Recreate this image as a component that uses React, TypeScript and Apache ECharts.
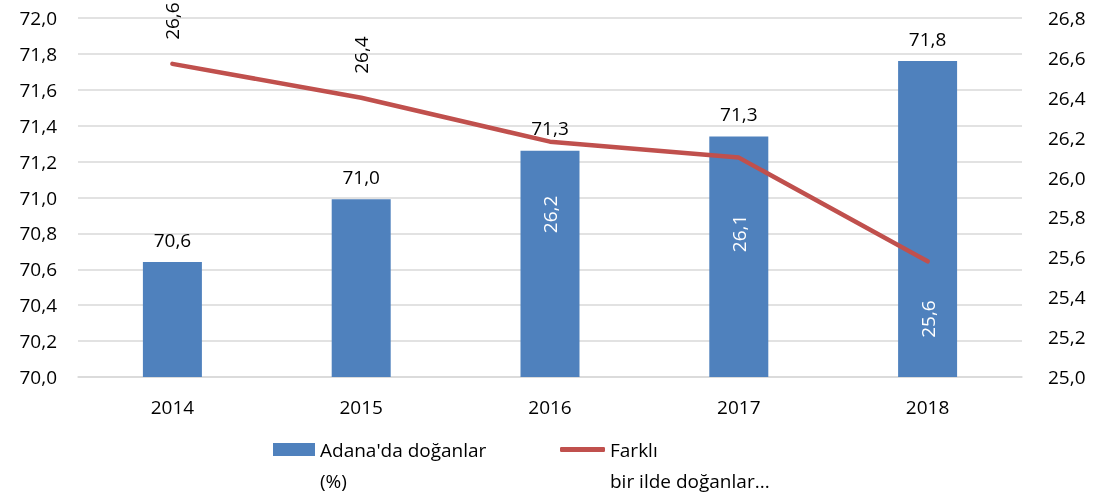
import React, { useEffect, useRef } from "react";
import * as echarts from "echarts";

const categories = ["2014", "2015", "2016", "2017", "2018"];
const adanaValues = [70.64, 70.99, 71.26, 71.34, 71.76];
const otherValues = [26.57, 26.4, 26.18, 26.1, 25.58];
const otherLabelPlacement = ["above", "above", "below", "below", "below"];
const otherLabelDistance = [24, 24, 54, 57, 39];
const seriesNames = ["Adana'da doğanlar (%)", "Farklı bir ilde doğanlar..."];
const legendTexts = ["\nAdana'da doğanlar\n(%)", "\nFarklı\nbir ilde doğanlar..."];

const FONT = "'Open Sans', 'Noto Sans', sans-serif";
const FS = 19;
const fmt = (v: number) => v.toFixed(1).replace(".", ",");

export default function App() {
  const ref = useRef<HTMLDivElement>(null);
  useEffect(() => {
    if (!ref.current) return;
    const chart = echarts.init(ref.current, undefined, { renderer: "svg" });
    const lineData = otherValues.map((v, i) => {
      const above = otherLabelPlacement[i] === "above";
      return {
        value: v,
        label: {
          show: true,
          position: above ? "top" : "bottom",
          rotate: 90,
          align: above ? "left" : "right",
          verticalAlign: "middle",
          distance: otherLabelDistance[i],
          color: above ? "#000" : "#fff",
          fontSize: FS,
          fontFamily: FONT,
        },
      };
    });
    const legendText = {
      fontSize: FS,
      fontFamily: FONT,
      color: "#000",
      lineHeight: 31,
    };
    chart.setOption({
      animation: false,
      textStyle: { fontFamily: FONT },
      grid: {
        left: 78,
        right: 81,
        top: 18,
        bottom: 115,
        containLabel: false,
        outerBoundsMode: "none",
      },
      legend: [
        {
          data: [{ name: seriesNames[0], icon: "rect" }],
          left: 273,
          top: 403,
          padding: 0,
          itemWidth: 42,
          itemHeight: 13,
          formatter: () => legendTexts[0],
          textStyle: legendText,
        },
        {
          data: [{ name: seriesNames[1], icon: "roundRect" }],
          left: 560,
          top: 403,
          padding: 0,
          itemWidth: 45,
          itemHeight: 5,
          itemStyle: { color: "#C0504D" },
          formatter: () => legendTexts[1],
          textStyle: legendText,
        },
      ],
      xAxis: {
        type: "category",
        data: categories,
        axisTick: { show: false },
        axisLine: { lineStyle: { color: "#d9d9d9", width: 1.5 } },
        axisLabel: { color: "#000", fontSize: FS, margin: 20, fontFamily: FONT },
      },
      yAxis: [
        {
          type: "value",
          min: 70,
          max: 72,
          interval: 0.2,
          axisLine: { show: false },
          axisTick: { show: false },
          splitLine: { lineStyle: { color: "#d9d9d9", width: 1.5 } },
          axisLabel: { color: "#000", fontSize: FS, margin: 21, formatter: fmt, fontFamily: FONT },
        },
        {
          type: "value",
          min: 25,
          max: 26.8,
          interval: 0.2,
          axisLine: { show: false },
          axisTick: { show: false },
          splitLine: { show: false },
          axisLabel: { color: "#000", fontSize: FS, margin: 26, formatter: fmt, fontFamily: FONT },
        },
      ],
      series: [
        {
          name: seriesNames[0],
          type: "bar",
          data: adanaValues,
          barWidth: 59,
          itemStyle: { color: "#4F81BD" },
          label: {
            show: true,
            position: "top",
            distance: 13,
            color: "#000",
            fontSize: FS,
            fontFamily: FONT,
            formatter: (p: any) => fmt(p.value),
          },
          z: 2,
        },
        {
          name: seriesNames[1],
          type: "line",
          yAxisIndex: 1,
          data: lineData,
          symbol: "circle",
          symbolSize: 0.01,
          label: {
            show: true,
            formatter: (p: any) => fmt(p.value),
          },
          lineStyle: { color: "#C0504D", width: 4.5, cap: "round", join: "round" },
          itemStyle: { color: "#C0504D" },
          z: 3,
        },
      ],
    });
    return () => chart.dispose();
  }, []);
  return (
    <div
      ref={ref}
      style={{ position: "fixed", left: 0, top: 0, width: 1103, height: 492 }}
    />
  );
}
